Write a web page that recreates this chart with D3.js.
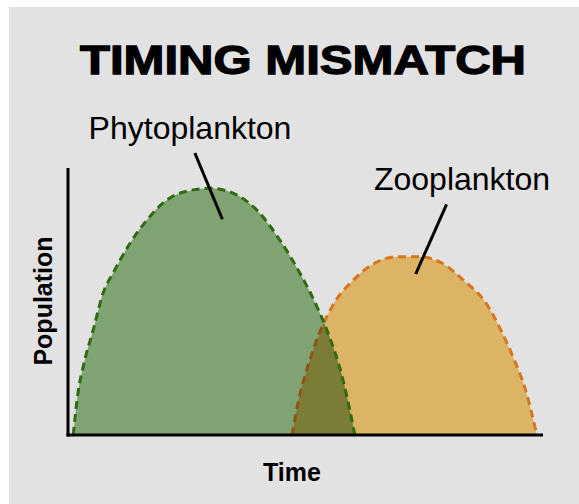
<!DOCTYPE html>
<html>
<head>
<meta charset="utf-8">
<script src="https://cdn.jsdelivr.net/npm/d3@7"></script>
<style>
  body { margin: 0; background: #fff; }
  text { font-family: "Liberation Sans", Arial, Helvetica, sans-serif; }
</style>
</head>
<body>
<div id="chart"></div>
<script>
// time (0-100) vs population (0-100)
var phytoTime = [1.1, 2.1, 3.2, 5.3, 7.4, 9.5, 13.1, 16.6, 20.8, 26.3, 29.9, 34.7, 39.7, 44.6, 48.8, 52.4, 54.5, 57.9, 60.4];
var phytoPop  = [0, 15.7, 25.6, 39.3, 53.2, 60.7, 71.9, 80.5, 88.0, 91.8, 92.4, 90.6, 84.3, 73.0, 60.7, 48.1, 39.3, 20.6, 0];
var zooTime = [47.2, 48.5, 50.6, 53.4, 56.2, 59.7, 63.9, 69.5, 73.7, 78.7, 83.6, 87.8, 91.3, 94.1, 96.2, 98.7];
var zooPop  = [0, 12.5, 26.2, 40.1, 49.9, 57.4, 63.7, 66.8, 66.8, 64.4, 57.4, 49.9, 38.7, 27.5, 17.6, 0];

var labels = ["Phytoplankton", "Zooplankton"];
var title = "TIMING MISMATCH";

var width = 579,
    height = 504;

var svg = d3.select("#chart").append("svg")
    .attr("width", width)
    .attr("height", height);

svg.append("rect")
    .attr("x", 9)
    .attr("y", 7)
    .attr("width", width - 9)
    .attr("height", height - 7)
    .attr("fill", "#e2e2e2");

var x = d3.scaleLinear().domain([0, 100]).range([68, 543]);
var y = d3.scaleLinear().domain([0, 100]).range([435, 168]);

var phyto = phytoTime.map(function (t, i) { return [t, phytoPop[i]]; });
var zoo = zooTime.map(function (t, i) { return [t, zooPop[i]]; });

var area = d3.area()
    .x(function (d) { return x(d[0]); })
    .y0(y(0))
    .y1(function (d) { return y(d[1]); })
    .curve(d3.curveMonotoneX);

var line = d3.line()
    .x(function (d) { return x(d[0]); })
    .y(function (d) { return y(d[1]); })
    .curve(d3.curveMonotoneX);

var defs = svg.append("defs");
defs.append("clipPath").attr("id", "clipZoo")
    .append("path").attr("d", area(zoo));
defs.append("clipPath").attr("id", "clipPhyto")
    .append("path").attr("d", area(phyto));

var g = svg.append("g");

// fills
g.append("path").attr("d", area(zoo)).attr("fill", "#dcb465");
g.append("path").attr("d", area(phyto)).attr("fill", "#80a374");
g.append("path").attr("d", area(phyto)).attr("fill", "#7b7c36")
    .attr("clip-path", "url(#clipZoo)");

// dashed outlines
g.append("path").attr("d", line(zoo))
    .attr("fill", "none").attr("stroke", "#d9751f")
    .attr("stroke-width", 3).attr("stroke-dasharray", "8,5");
g.append("path").attr("d", line(zoo))
    .attr("fill", "none").attr("stroke", "#87561a")
    .attr("stroke-width", 3).attr("stroke-dasharray", "8,5")
    .attr("clip-path", "url(#clipPhyto)");
g.append("path").attr("d", line(phyto))
    .attr("fill", "none").attr("stroke", "#2f6b0f")
    .attr("stroke-width", 3).attr("stroke-dasharray", "8,5");

// axes (bare lines)
g.append("line")
    .attr("x1", x(0)).attr("x2", x(0))
    .attr("y1", y(100)).attr("y2", y(0) + 1.5)
    .attr("stroke", "#000").attr("stroke-width", 3);
g.append("line")
    .attr("x1", x(0) - 1.5).attr("x2", x(100))
    .attr("y1", y(0)).attr("y2", y(0))
    .attr("stroke", "#000").attr("stroke-width", 3);

// leader lines
g.append("line")
    .attr("x1", x(26.7)).attr("y1", y(105.6))
    .attr("x2", x(32.5)).attr("y2", y(80.8))
    .attr("stroke", "#000").attr("stroke-width", 3);
g.append("line")
    .attr("x1", x(79.7)).attr("y1", y(86.4))
    .attr("x2", x(73.2)).attr("y2", y(60.3))
    .attr("stroke", "#000").attr("stroke-width", 3);

g.append("text")
    .attr("x", 190).attr("y", 139)
    .attr("text-anchor", "middle")
    .style("font-size", "32px")
    .text(labels[0]);
g.append("text")
    .attr("x", 462).attr("y", 190)
    .attr("text-anchor", "middle")
    .style("font-size", "32px")
    .text(labels[1]);

// title
svg.append("text")
    .attr("x", 80).attr("y", 74)
    .attr("textLength", 446)
    .attr("lengthAdjust", "spacingAndGlyphs")
    .style("font-size", "41px")
    .style("font-weight", "bold")
    .attr("stroke", "#000")
    .attr("stroke-width", 1.3)
    .text(title);

// axis titles
svg.append("text")
    .attr("x", 292).attr("y", 481)
    .attr("text-anchor", "middle")
    .style("font-size", "25px")
    .style("font-weight", "bold")
    .text("Time");
svg.append("text")
    .attr("transform", "translate(52,301) rotate(-90)")
    .attr("text-anchor", "middle")
    .style("font-size", "25px")
    .style("font-weight", "bold")
    .text("Population");
</script>
</body>
</html>
